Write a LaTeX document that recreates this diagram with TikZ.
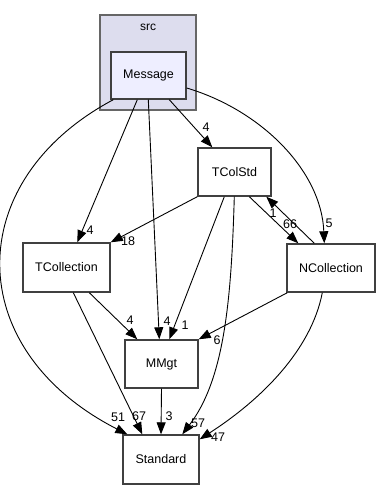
\documentclass[tikz,border=0pt]{standalone}
\usepackage{fontspec}
\setmainfont{Liberation Sans}
\usetikzlibrary{arrows.meta}
\definecolor{clusterfill}{HTML}{DDDDEE}
\definecolor{msgfill}{HTML}{EEEEFF}
\definecolor{boxline}{HTML}{404040}
\definecolor{clusterline}{HTML}{666666}
\begin{document}
\begin{tikzpicture}[x=1pt,y=-1pt,
  box/.style={draw=boxline,line width=1.4pt,fill=white,inner sep=0pt,
    font=\fontsize{12.5}{14}\selectfont},
  dep/.style={draw=black,line width=0.9pt,-{Triangle[length=12pt,width=9pt]}},
  lbl/.style={inner sep=0pt,font=\fontsize{12.5}{14}\selectfont}]
\useasboundingbox[fill=white] (0,0) rectangle (380,489);

% directory cluster
\node[draw=clusterline,line width=1.4pt,fill=clusterfill,minimum width=96pt,minimum height=95pt,inner sep=0pt] (src) at (148,62.5) {};
\node[font=\fontsize{12}{14}\selectfont] (srclabel) at (148,27) {src};

% directories
\node[box,fill=msgfill,minimum width=75pt,minimum height=47pt] (msg) at (148.5,75.5) {Message};
\node[box,minimum width=73pt,minimum height=48pt] (tcs) at (234.5,172) {TColStd};
\node[box,minimum width=88pt,minimum height=48pt] (ncol) at (331,268) {NCollection};
\node[box,minimum width=87pt,minimum height=49pt] (tcol) at (66.5,267.5) {TCollection};
\node[box,minimum width=73pt,minimum height=48pt] (mmgt) at (161.5,364) {MMgt};
\node[box,minimum width=76pt,minimum height=49pt] (std) at (161,459.5) {Standard};

% dependencies
\draw[dep] ([xshift=59pt]msg.south west) -- ([xshift=15pt]tcs.north west);
\draw[dep] ([yshift=-12.5pt]msg.east) .. controls +(74,22) and +(-3,-73) .. ([xshift=38pt]ncol.north west);
\draw[dep] ([xshift=27pt]msg.south west) -- ([xshift=55pt]tcol.north west);
\draw[dep] ([xshift=38pt]msg.south west) -- ([xshift=35pt]mmgt.north west);
\draw[dep] ([xshift=3pt]msg.south west) .. controls +(-152,81) and +(-166,-85) .. ([xshift=5pt]std.north west);
\draw[dep] (tcs.south west) -- (tcol.north east);
\draw[dep] ([xshift=27pt]tcs.south west) -- ([xshift=45pt]mmgt.north west);
\draw[dep] ([xshift=37pt]tcs.south west) .. controls +(-3,104) and +(42,-55) .. ([xshift=60pt]std.north west);
\draw[dep] ([xshift=52pt]tcs.south west) -- ([xshift=12pt]ncol.north west);
\draw[dep] ([xshift=28pt]ncol.north west) -- ([xshift=69pt]tcs.south west);
\draw[dep] ([xshift=1pt]ncol.south west) -- (mmgt.north east);
\draw[dep] ([xshift=36pt]ncol.south west) .. controls +(-11,57) and +(62,-40) .. ([yshift=-5pt]std.north east);
\draw[dep] ([xshift=67pt]tcol.south west) -- ([xshift=13pt]mmgt.north west);
\draw[dep] ([xshift=51pt]tcol.south west) -- ([xshift=20pt]std.north west);
\draw[dep] (mmgt.south) -- (std.north);

% edge labels
\node[lbl] (l1) at (206,127) {4};
\node[lbl] (l2) at (329,223) {5};
\node[lbl] (l3) at (90,230) {4};
\node[lbl] (l4) at (167,321) {4};
\node[lbl] (l5) at (118,417) {51};
\node[lbl] (l6) at (128,241) {18};
\node[lbl] (l7) at (185,325) {1};
\node[lbl] (l8) at (198,423) {57};
\node[lbl] (l9) at (290,224) {66};
\node[lbl] (l10) at (273,213) {1};
\node[lbl] (l11) at (217,340) {6};
\node[lbl] (l12) at (218,437) {47};
\node[lbl] (l13) at (130,320) {4};
\node[lbl] (l14) at (139,416) {67};
\node[lbl] (l15) at (169,416) {3};
\end{tikzpicture}
\end{document}
